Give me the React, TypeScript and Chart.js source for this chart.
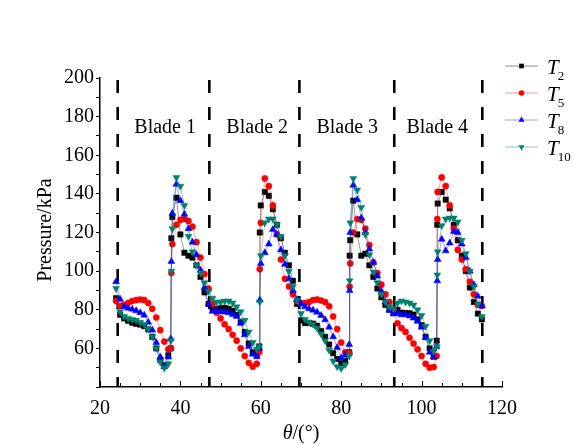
import React, { useEffect, useRef } from "react";
import { Chart, registerables } from "chart.js";

Chart.register(...registerables);

// Rotation angle (degrees)
const THETA = [
  24, 25, 26, 27, 28, 29, 30, 31, 32, 33, 34, 35, 36, 37,
  37.6, 37.75,
  38, 39, 40, 41, 42, 43, 44, 45, 46, 47, 48, 49, 50, 51, 52, 53, 54, 55, 56, 57, 58, 59,
  59.6, 59.75,
  60, 61, 62, 63, 64, 65, 66, 67, 68, 69, 70, 71, 72, 73, 74, 75, 76, 77, 78, 79, 80, 81, 82,
  82.1, 82.25,
  83, 84, 85, 86, 87, 88, 89, 90, 91, 92, 93, 94, 95, 96, 97, 98, 99, 100, 101, 102, 103,
  103.75, 103.9,
  104, 105, 106, 107, 108, 109, 110, 111, 112, 113, 114, 115,
];

// Pressure (kPa) at monitoring points
const T2 = [
  86, 77.4, 75.5, 74.3, 73.3, 72.7, 72.3, 71.5, 69.8, 66, 60, 54, 51.2, 56.5,
  60, 117,
  128, 138, 119, 109.5, 108, 107, 103, 97, 89, 83, 80.5, 80.3, 80.8, 81, 80.5, 79.5, 77.4, 73.5, 68.5, 62.5, 58, 56.6,
  61, 120,
  134, 141, 139, 132, 124, 117, 109.5, 103, 95, 83, 74.5, 73.1, 73.2, 72.8, 71.7, 69, 66, 62, 57.5, 54.5, 52.3, 53.5, 58,
  108, 116,
  136.5, 119, 108, 109, 103, 97, 91, 86.5, 82.5, 80, 79, 80, 78.5, 78.3, 78.2, 77.5, 75, 72, 66, 60, 55.7,
  64, 124,
  135, 141, 137, 132.5, 124, 116, 108, 100, 91.5, 84, 78, 75,
];

const T5 = [
  84.5, 82, 82.5, 83.5, 84.5, 85, 85.3, 85, 83.5, 80.5, 76, 69.5, 63.5, 59.5,
  60, 99,
  114, 124, 126.5, 127, 126, 123, 115, 107, 98.5, 91, 83, 78.5, 75.5, 72.5, 70, 67, 64, 60, 56, 52.5, 50.5, 52,
  58, 101,
  125, 148, 144, 134, 119, 106, 96, 92, 88, 84.5, 83.5, 83.5, 84, 85, 85.3, 84.8, 84, 81.8, 76.5, 70, 63, 58, 57.5,
  92, 104,
  120, 127, 126.5, 122, 113.5, 104.5, 99, 93, 88, 84, 80, 73, 70.5, 68.5, 65.5, 62.5, 59.5, 56, 52, 50, 50.3,
  56, 127,
  141, 148.5, 144, 134, 122, 111, 106, 101, 94.5, 88, 82.5, 82,
];

const T8 = [
  94.5, 85.5, 81.5, 80.8, 80.3, 79.5, 78.5, 77.2, 73.5, 69.5, 63, 55.5, 50.5, 55.5,
  65, 105,
  130, 145, 136.5, 129.5, 122, 115, 108.5, 100.5, 91.5, 83, 79.2, 79.2, 79, 78.8, 78.5, 77.5, 76.5, 73, 67, 61, 57, 55.7,
  60, 85,
  104, 109.5, 114, 121.5, 119, 111, 103.5, 96, 90, 85.3, 83, 81.5, 80.5, 79.8, 78.7, 77, 74.8, 71, 66, 60.5, 55, 56.5, 62,
  90, 120,
  144.5, 137, 127.5, 120, 111.5, 104.5, 97.5, 89.5, 84, 79.8, 77.8, 78, 77.4, 77.4, 76.8, 75.7, 74, 71, 65.5, 58, 55.5,
  61, 95,
  106, 116.5, 110.5, 114.5, 120.5, 120, 114, 107, 100, 93, 87, 82,
];

const T10 = [
  91, 79, 76.5, 75.5, 75, 74.5, 73.5, 72.5, 70, 66, 60, 53, 49.8, 52,
  64, 100,
  122, 148.5, 144, 134, 118, 110, 103, 99, 94, 89.5, 86, 84, 84, 84.5, 84.5, 83.5, 81.5, 79, 74.5, 68.5, 63, 59.5,
  61, 84,
  108, 125, 127, 127, 124, 118, 108, 100, 92, 85, 78, 75, 73.5, 72.5, 70.5, 67.5, 64, 59, 53.5, 50.5, 49.6, 51.5, 56,
  95, 125,
  148, 142, 133, 119, 108.5, 99.5, 94, 88, 84, 81.5, 80.5, 83.5, 84.5, 84, 83.5, 82.5, 80, 77, 71.5, 64, 58.5,
  61, 98,
  110, 123.5, 127, 127.5, 127.5, 125.5, 116, 109, 100, 92, 83, 76.5,
];

const SERIES_SUBS = ["2", "5", "8", "10"];
const BLADE_EDGES = [24.4, 47.2, 69.6, 93.2, 115.1];
const BLADE_NAMES = ["Blade 1", "Blade 2", "Blade 3", "Blade 4"];
const BLADE_LABEL_THETA = [36.2, 59.1, 81.5, 103.9];
const BLADE_LABEL_P = 174;
const X_MIN = 20;
const X_MAX = 120;
const Y_MIN = 40;
const Y_MAX = 200;

const SERIF = "'Liberation Serif', 'Times New Roman', Times, serif";
const COLORS = ["#000000", "#ff0000", "#0000ff", "#00806f"];
const LINE_COLORS = [
  "rgba(0,0,0,0.45)",
  "rgba(255,0,0,0.4)",
  "rgba(0,0,255,0.4)",
  "rgba(0,128,111,0.45)",
];
const SHAPES = ["rect", "circle", "triangle", "triangle"];
const ROTS = [0, 0, 0, 180];
const RADII = [3.8, 3.1, 4, 4];
const LEGEND_RADII = [3.3, 2.8, 3.5, 3.5];
const ORDERS = [3, 2, 1, 0];

function drawMarker(ctx: CanvasRenderingContext2D, shape: string, x: number, y: number, r: number, rot: number, color: string) {
  ctx.save();
  ctx.fillStyle = color;
  ctx.beginPath();
  if (shape === "rect") {
    const s = r * Math.SQRT1_2;
    ctx.rect(x - s, y - s, 2 * s, 2 * s);
  } else if (shape === "circle") {
    ctx.arc(x, y, r, 0, Math.PI * 2);
  } else {
    let a = (rot * Math.PI) / 180;
    ctx.moveTo(x + Math.sin(a) * r, y - Math.cos(a) * r);
    a += (2 * Math.PI) / 3;
    ctx.lineTo(x + Math.sin(a) * r, y - Math.cos(a) * r);
    a += (2 * Math.PI) / 3;
    ctx.lineTo(x + Math.sin(a) * r, y - Math.cos(a) * r);
    ctx.closePath();
  }
  ctx.fill();
  ctx.restore();
}

const overlayPlugin = {
  id: "overlay",
  beforeDatasetsDraw(chart: any) {
    const { ctx, chartArea, scales } = chart;
    ctx.save();
    ctx.strokeStyle = "#000";
    ctx.lineWidth = 2.6;
    ctx.setLineDash([13, 14]);
    BLADE_EDGES.forEach((t) => {
      const x = scales.x.getPixelForValue(t);
      ctx.beginPath();
      ctx.moveTo(x, chartArea.top + 2);
      ctx.lineTo(x, chartArea.bottom);
      ctx.stroke();
    });
    ctx.restore();
  },
  afterDraw(chart: any) {
    const { ctx, chartArea, scales } = chart;
    ctx.save();
    // inward x ticks
    ctx.strokeStyle = "#000";
    ctx.lineWidth = 1;
    for (let v = X_MIN; v <= X_MAX; v += 5) {
      const x = Math.round(scales.x.getPixelForValue(v)) + 0.5;
      const len = v % 20 === 0 ? 6 : 4;
      ctx.beginPath();
      ctx.moveTo(x, chartArea.bottom);
      ctx.lineTo(x, chartArea.bottom - len);
      ctx.stroke();
    }

    // blade labels
    ctx.fillStyle = "#000";
    ctx.font = `20px ${SERIF}`;
    ctx.textAlign = "center";
    ctx.textBaseline = "middle";
    BLADE_NAMES.forEach((n, i) => {
      ctx.fillText(n, scales.x.getPixelForValue(BLADE_LABEL_THETA[i]), scales.y.getPixelForValue(BLADE_LABEL_P));
    });

    // legend
    const rows = [66, 93, 120, 147];
    SERIES_SUBS.forEach((sub, i) => {
      const y = rows[i];
      ctx.strokeStyle = LINE_COLORS[i];
      ctx.lineWidth = 1;
      ctx.beginPath();
      ctx.moveTo(505, y);
      ctx.lineTo(538, y);
      ctx.stroke();
      drawMarker(ctx, SHAPES[i], 521.5, y, LEGEND_RADII[i], ROTS[i], COLORS[i]);
      ctx.fillStyle = "#000";
      ctx.textAlign = "left";
      ctx.textBaseline = "alphabetic";
      ctx.font = `italic 21px ${SERIF}`;
      ctx.fillText("T", 547, y + 7.5);
      const tw = ctx.measureText("T").width;
      ctx.font = `13px ${SERIF}`;
      ctx.fillText(sub, 547 + tw - 1, y + 14);
    });

    // x title
    ctx.font = `italic 20px ${SERIF}`;
    const th = "θ";
    const w1 = ctx.measureText(th).width;
    ctx.font = `20px ${SERIF}`;
    const rest = "/(°)";
    const w2 = ctx.measureText(rest).width;
    const cx = (chartArea.left + chartArea.right) / 2;
    const sx = cx - (w1 + w2) / 2;
    ctx.textAlign = "left";
    ctx.textBaseline = "alphabetic";
    ctx.font = `italic 20px ${SERIF}`;
    ctx.fillText(th, sx, 439);
    ctx.font = `20px ${SERIF}`;
    ctx.fillText(rest, sx + w1, 439);

    // y title
    ctx.translate(46, 230);
    ctx.rotate(-Math.PI / 2);
    ctx.textAlign = "center";
    ctx.textBaseline = "middle";
    ctx.font = `20px ${SERIF}`;
    ctx.fillText("Pressure/kPa", 0, 0);
    ctx.restore();
  },
};

export default function App() {
  const ref = useRef<HTMLCanvasElement>(null);
  useEffect(() => {
    const series = [T2, T5, T8, T10];
    const datasets = series.map((vals, i) => ({
      label: "T" + SERIES_SUBS[i],
      data: THETA.map((t, j) => ({ x: t, y: vals[j] })),
      showLine: true,
      borderColor: LINE_COLORS[i],
      borderWidth: 0.9,
      backgroundColor: COLORS[i],
      pointBackgroundColor: COLORS[i],
      pointBorderColor: COLORS[i],
      pointBorderWidth: 0.5,
      pointStyle: SHAPES[i],
      pointRotation: ROTS[i],
      pointRadius: RADII[i],
      order: ORDERS[i],
      tension: 0,
    }));
    const chart = new Chart(ref.current as HTMLCanvasElement, {
      type: "scatter",
      data: { datasets },
      options: {
        animation: false,
        responsive: false,
        devicePixelRatio: 1,
        events: [],
        layout: { padding: { top: 78, right: 72, left: 0, bottom: 0 } },
        plugins: { legend: { display: false }, tooltip: { enabled: false } },
        scales: {
          x: {
            type: "linear",
            min: X_MIN,
            max: X_MAX,
            ticks: {
              stepSize: 20,
              color: "#000",
              font: { family: SERIF, size: 20 },
              padding: 10,
              maxRotation: 0,
            },
            grid: { display: true, drawOnChartArea: false, drawTicks: false, color: "#000" },
            border: { display: true, color: "#000", width: 1.5 },
            afterFit: (s: any) => {
              s.height = 58;
            },
          },
          y: {
            type: "linear",
            min: Y_MIN,
            max: Y_MAX,
            ticks: {
              stepSize: 10,
              autoSkip: false,
              color: "#000",
              font: { family: SERIF, size: 20 },
              padding: 2,
              callback: (v: any) => (v % 20 === 0 && v !== Y_MIN ? String(v) : ""),
            },
            grid: { display: true, drawOnChartArea: false, drawTicks: true, tickLength: 4, color: "#000" },
            border: { display: true, color: "#000", width: 1.5 },
            afterFit: (s: any) => {
              s.width = 100;
            },
          },
        },
      },
      plugins: [overlayPlugin],
    } as any);
    return () => chart.destroy();
  }, []);
  return (
    <div style={{ position: "absolute", left: 0, top: 0, width: 574, height: 445, background: "#fff" }}>
      <canvas ref={ref} width={574} height={445} style={{ display: "block", width: 574, height: 445 }} />
    </div>
  );
}
